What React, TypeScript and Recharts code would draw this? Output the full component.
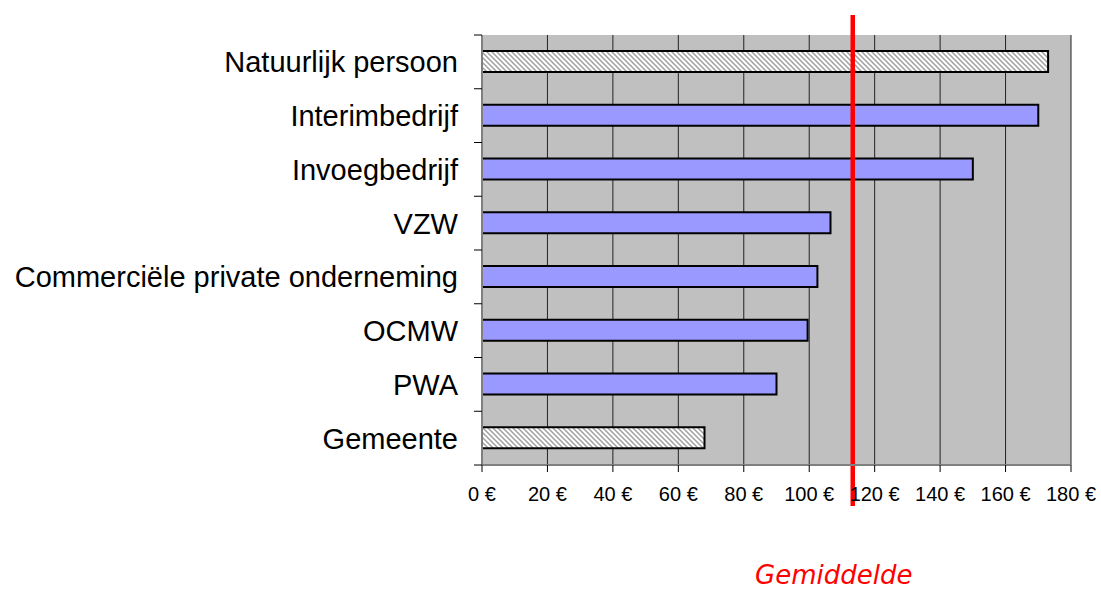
import { Bar, BarChart, CartesianGrid, Cell, ReferenceLine, XAxis, YAxis } from "recharts";

const categories = [
  "Natuurlijk persoon",
  "Interimbedrijf",
  "Invoegbedrijf",
  "VZW",
  "Commerciële private onderneming",
  "OCMW",
  "PWA",
  "Gemeente",
];
const costs = [173, 170, 150, 106.5, 102.5, 99.5, 90, 68];
const hatched = [true, false, false, false, false, false, false, true];
const xTicks = [0, 20, 40, 60, 80, 100, 120, 140, 160, 180];
const average = 113.3;

const W = 1101;
const H = 589;
const M = { top: 35, right: 30, left: 0, bottom: 84 };
const Y_AXIS_W = 482;
const X_AXIS_H = 40;
const PLOT_H = H - M.top - M.bottom - X_AXIS_H;
const BAND = PLOT_H / categories.length;

const data = categories.map((name, i) => ({ name, value: costs[i], hatched: hatched[i] }));

function CatTick(props: any) {
  const { y, payload, index } = props;
  const ax = M.left + Y_AXIS_W;
  return (
    <g>
      <line x1={ax - 8} x2={ax} y1={y - BAND / 2} y2={y - BAND / 2} stroke="#000" strokeWidth={1} />
      {index === categories.length - 1 && (
        <line x1={ax - 8} x2={ax} y1={y + BAND / 2} y2={y + BAND / 2} stroke="#000" strokeWidth={1} />
      )}
      <text x={ax - 24} y={y} dy="0.36em" textAnchor="end" fill="#000" fontSize={29} fontFamily="'Liberation Sans', Arial, sans-serif">
        {payload.value}
      </text>
    </g>
  );
}

export default function App() {
  return (
    <div style={{ position: "absolute", left: 0, top: 0, width: W, height: H, background: "#fff" }}>
      <BarChart width={W} height={H} data={data} layout="vertical" margin={M} barSize={21}>
        <defs>
          <pattern id="hatch" patternUnits="userSpaceOnUse" width="5" height="5">
            <rect width="5" height="5" fill="#fff" />
            <path d="M-1,-1 L6,6 M-1,4 L1,6 M4,-1 L6,1" stroke="#a0a0a0" strokeWidth={1.5} />
          </pattern>
        </defs>
        <CartesianGrid horizontal={false} stroke="#222" strokeWidth={1} fill="#C0C0C0" />
        <XAxis
          type="number"
          domain={[0, 180]}
          ticks={xTicks}
          height={X_AXIS_H}
          tickFormatter={(v) => `${v} €`}
          tick={{ fill: "#000", fontSize: 20, fontFamily: "'Liberation Sans', Arial, sans-serif" }}
          tickSize={7}
          tickMargin={15}
          tickLine={{ stroke: "#000" }}
          axisLine={{ stroke: "#808080", strokeWidth: 2 }}
        />
        <XAxis xAxisId="top" type="number" domain={[0, 180]} orientation="top" height={0} tick={false} tickLine={false} axisLine={{ stroke: "#808080", strokeWidth: 2 }} />
        <YAxis
          type="category"
          dataKey="name"
          width={Y_AXIS_W}
          tick={<CatTick />}
          tickLine={false}
          interval={0}
          axisLine={{ stroke: "#808080", strokeWidth: 2 }}
        />
        <YAxis yAxisId="right" type="category" dataKey="name" orientation="right" width={0} tick={false} tickLine={false} axisLine={{ stroke: "#808080", strokeWidth: 2 }} />
        <Bar dataKey="value" stroke="#000" strokeWidth={2} isAnimationActive={false}>
          {data.map((d, i) => (
            <Cell key={i} fill={d.hatched ? "url(#hatch)" : "#9999FF"} />
          ))}
        </Bar>
        <ReferenceLine
          x={average}
          ifOverflow="visible"
          shape={(p: any) => (
            <line x1={p.x1} x2={p.x2} y1={Math.min(p.y1, p.y2) - 20} y2={Math.max(p.y1, p.y2) + 41} stroke="#FF0000" strokeWidth={4.5} />
          )}
        />
      </BarChart>
      <div
        style={{
          position: "absolute",
          left: 755,
          top: 562,
          fontSize: 26,
          lineHeight: "26px",
          fontStyle: "italic",
          color: "#FF0000",
          fontFamily: "'DejaVu Sans', Verdana, sans-serif",
          whiteSpace: "nowrap",
        }}
      >
        Gemiddelde
      </div>
    </div>
  );
}
